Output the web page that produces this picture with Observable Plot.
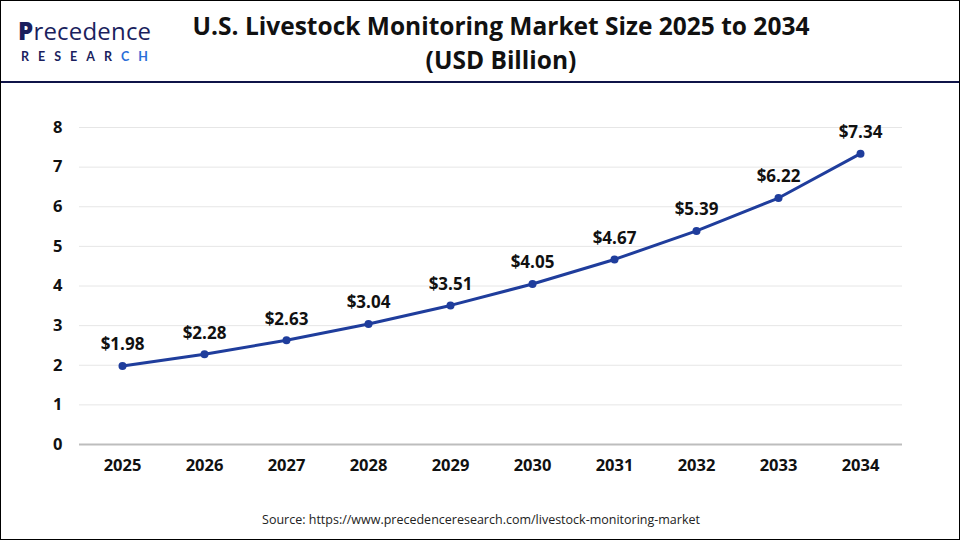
<!DOCTYPE html>
<html><head><meta charset="utf-8">
<script src="https://cdn.jsdelivr.net/npm/d3@7"></script>
<script src="https://cdn.jsdelivr.net/npm/@observablehq/plot@0.6"></script>
<style>
html,body{margin:0;padding:0;background:#fff;}
#page{position:relative;width:960px;height:540px;box-sizing:border-box;border:1.5px solid #000;overflow:hidden;font-family:Lato,"Open Sans",sans-serif;}
.logo1{position:absolute;left:17px;top:17px;color:#1b1f5e;font-size:24px;line-height:25px;font-family:"Open Sans",sans-serif;letter-spacing:0.2px;white-space:nowrap;}
.logo2{position:absolute;left:20px;top:50px;color:#1b1f5e;font-size:12.5px;font-weight:700;letter-spacing:9px;line-height:12px;white-space:nowrap;}
#title{position:absolute;left:100px;width:800px;top:8px;text-align:center;font-weight:700;font-size:24.5px;line-height:34px;color:#111;font-family:"Open Sans",sans-serif;}
#rule{position:absolute;left:0;top:80px;width:960px;height:2px;background:#0f1448;}
#chart{position:absolute;left:-2px;top:82px;}
#source{position:absolute;left:0;width:960px;top:510px;text-align:center;font-size:12.5px;color:#222;font-family:"Open Sans",sans-serif;}
</style></head>
<body><div id="page">
<div class="logo1"><span style="font-weight:800">P</span>recedence</div>
<div class="logo2">RESEAR<span style="color:#2a6ed8">CH</span></div>
<div id="title">U.S. Livestock Monitoring Market Size 2025 to 2034<br>(USD Billion)</div>
<div id="rule"></div>
<div id="chart"></div>
<div id="source">Source: https://www.precedenceresearch.com/livestock-monitoring-market</div>
</div>
<script>
const years = ["2025","2026","2027","2028","2029","2030","2031","2032","2033","2034"];
const values = [1.98,2.28,2.63,3.04,3.51,4.05,4.67,5.39,6.22,7.34];
const yTicks = [0,1,2,3,4,5,6,7,8];
const data = years.map((y,i)=>({year:y,value:values[i]}));
const lineColor = "#1f3d9c";
const chart = Plot.plot({
  width: 957, height: 418,
  marginLeft: 80, marginRight: 54, marginTop: 44, marginBottom: 57,
  style:{fontFamily:"'Open Sans', Lato, sans-serif", fontSize:"16.5px", fontWeight:"700", color:"#111", background:"transparent"},
  x:{type:"point", domain:years, padding:0.5, label:null, tickSize:0, tickPadding:15},
  y:{domain:[0,8], ticks:yTicks, label:null, tickSize:0, tickPadding:17},
  marks:[
    Plot.gridY(yTicks.filter(d=>d>0), {stroke:"#e6e6e6", strokeOpacity:1, strokeWidth:1}),
    Plot.ruleY([0], {stroke:"#bdbdbd", strokeWidth:2}),
    Plot.line(data, {x:"year", y:"value", stroke:lineColor, strokeWidth:3}),
    Plot.dot(data, {x:"year", y:"value", fill:lineColor, r:4}),
    Plot.text(data, {x:"year", y:"value", text:d=>"$"+d.value.toFixed(2), dy:-21, fontSize:17, fontWeight:700, fill:"#111"})
  ]
});
document.getElementById("chart").appendChild(chart);
</script>
</body></html>
